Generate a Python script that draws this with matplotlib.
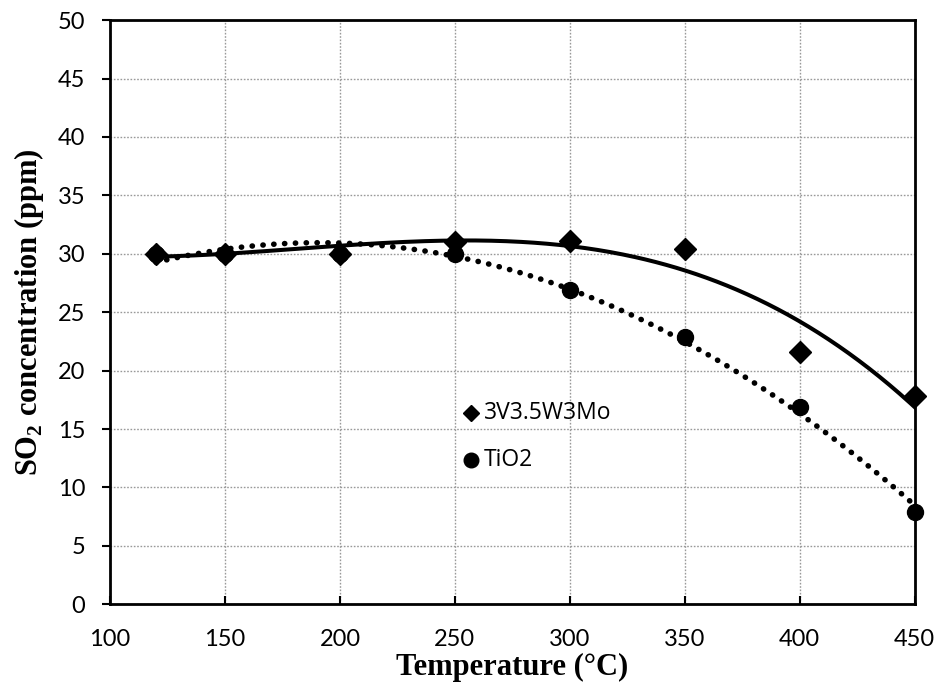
import numpy as np
import matplotlib
matplotlib.use("Agg")
import matplotlib.pyplot as plt

temperature = [120, 150, 200, 250, 300, 350, 400, 450]
so2_vwmo = [30.0, 30.0, 30.0, 31.0, 31.1, 30.4, 21.6, 17.8]
so2_tio2 = [30.0, 30.0, 30.0, 30.0, 26.9, 22.9, 16.9, 7.9]
label_vwmo = "3V3.5W3Mo"
label_tio2 = "TiO2"
x_ticks = [100, 150, 200, 250, 300, 350, 400, 450]
y_ticks = [0, 5, 10, 15, 20, 25, 30, 35, 40, 45, 50]

plt.rcParams["mathtext.fontset"] = "custom"
plt.rcParams["mathtext.bf"] = "Liberation Serif:bold"
plt.rcParams["mathtext.rm"] = "Liberation Serif"

fig = plt.figure(figsize=(9.41, 6.93), dpi=100)
ax = fig.add_axes([0.117, 0.128, 0.855, 0.843])

tick_font = "Lato"

# polynomial trend lines
xs = np.linspace(min(temperature), max(temperature), 300)
fit_vwmo = np.polyval(np.polyfit(temperature, so2_vwmo, 3), xs)
fit_tio2 = np.polyval(np.polyfit(temperature, so2_tio2, 2), xs)
ax.plot(xs, fit_vwmo, color="black", lw=2.9, zorder=3)
ax.plot(xs, fit_tio2, color="black", lw=4.0, linestyle=(0, (0.05, 1.9)),
        dash_capstyle="round", zorder=3)

ax.plot(temperature, so2_vwmo, linestyle="none", marker="D", ms=11,
        color="black", zorder=4, clip_on=False)
ax.plot(temperature, so2_tio2, linestyle="none", marker="o", ms=11.5,
        color="black", zorder=5, clip_on=False)

# legend drawn as free-standing entries inside the plot
ax.plot([0.448], [0.327], transform=ax.transAxes, marker="D", ms=8,
        color="black", linestyle="none")
ax.text(0.465, 0.327, label_vwmo, transform=ax.transAxes, fontsize=16.5,
        family="Open Sans", va="center", ha="left")
ax.plot([0.448], [0.247], transform=ax.transAxes, marker="o", ms=10.5,
        color="black", linestyle="none")
ax.text(0.465, 0.247, label_tio2, transform=ax.transAxes, fontsize=16.5,
        family="Open Sans", va="center", ha="left")

ax.set_xlim(100, 450)
ax.set_ylim(0, 50)
ax.set_xticks(x_ticks)
ax.set_yticks(y_ticks)
ax.grid(True, color="#999999", linestyle=(0, (1.2, 1.2)), lw=1.0)
ax.set_axisbelow(True)

for s in ax.spines.values():
    s.set_linewidth(2.0)
    s.set_color("black")

ax.tick_params(axis="y", direction="out", length=6, width=1.5, pad=12)
ax.tick_params(axis="x", direction="in", length=6, width=1.5, pad=18)
for lab in ax.get_xticklabels() + ax.get_yticklabels():
    lab.set_family(tick_font)
    lab.set_fontsize(17)

ax.set_xlabel("Temperature (°C)", family="Liberation Serif", fontweight="bold",
              fontsize=22, labelpad=2)
ax.set_ylabel(r"SO$_\mathbf{2}$ concentration (ppm)", family="Liberation Serif",
              fontweight="bold", fontsize=22, labelpad=8)

fig.savefig("out.png", dpi=100)
